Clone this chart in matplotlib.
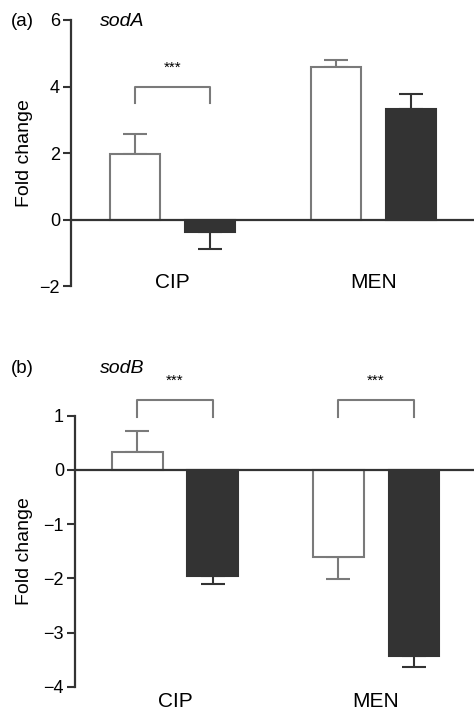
import matplotlib
matplotlib.use('Agg')
import matplotlib.pyplot as plt

plt.rcParams['font.family'] = ['Liberation Sans', 'DejaVu Sans']

groups = ['CIP', 'MEN']
# panel (a) sodA
sodA_white = [1.97, 4.6]
sodA_white_err = [0.6, 0.2]
sodA_black = [-0.37, 3.33]
sodA_black_err = [0.53, 0.43]
# panel (b) sodB
sodB_white = [0.33, -1.61]
sodB_white_err = [0.39, 0.41]
sodB_black = [-1.95, -3.44]
sodB_black_err = [0.15, 0.2]

W = 474 / 100
H = 711 / 100
fig = plt.figure(figsize=(W, H), dpi=100)

DARK = '#333333'
GREY = '#7a7a7a'
off = 0.187
bw = 0.25


def panel(ax, white, werr, black, berr, ylim, yticks, xlim):
    x = list(range(len(groups)))
    xw = [i - off for i in x]
    xb = [i + off for i in x]
    ax.bar(xw, white, bw, color='white', edgecolor=GREY, linewidth=1.5, zorder=2)
    ax.bar(xb, black, bw, color=DARK, edgecolor=DARK, linewidth=1.5, zorder=2)
    for xs, vals, errs, c in [(xw, white, werr, GREY), (xb, black, berr, DARK)]:
        for xi, v, e in zip(xs, vals, errs):
            lo, hi = (0, e) if v >= 0 else (e, 0)
            ax.errorbar(xi, v, yerr=[[lo], [hi]], fmt='none', ecolor=c,
                        elinewidth=1.5, capsize=8.5, capthick=1.5, zorder=1)
    ax.axhline(0, color=DARK, linewidth=1.6, zorder=3, clip_on=False)
    ax.set_xlim(xlim)
    ax.set_ylim(ylim)
    ax.set_yticks(yticks)
    ax.set_yticklabels([str(t).replace('-', '\u2212') for t in yticks])
    ax.set_xticks([])
    for s in ['top', 'right', 'bottom']:
        ax.spines[s].set_visible(False)
    ax.spines['left'].set_color(DARK)
    ax.spines['left'].set_linewidth(1.6)
    ax.tick_params(axis='y', direction='out', length=6, width=1.5,
                   color=DARK, labelsize=13, pad=2)
    ax.set_ylabel('Fold change', fontsize=14)
    return xw, xb


def bracket(ax, x0, x1, ytop, ybot, ystar):
    ax.plot([x0, x0, x1, x1], [ybot, ytop, ytop, ybot], color=GREY,
            linewidth=1.5, clip_on=False)
    ax.text((x0 + x1) / 2, ystar, '***', ha='center', va='center',
            fontsize=11, clip_on=False)


# (a)
axa = fig.add_axes([71 / 474, (711 - 286) / 711, (474 - 71) / 474, 266 / 711])
xw, xb = panel(axa, sodA_white, sodA_white_err, sodA_black, sodA_black_err,
               (-2, 6), [-2, 0, 2, 4, 6], (-0.505, 1.5))
bracket(axa, xw[0], xb[0], 4.0, 3.5, 4.55)
for i, g in enumerate(groups):
    axa.text(i, -1.88, g, ha='center', va='center', fontsize=15)
fig.text(11 / 474, 1 - 21 / 711, '(a)', ha='left', va='center', fontsize=13.5)
fig.text(100 / 474, 1 - 21 / 711, 'sodA', ha='left', va='center',
         fontsize=14, style='italic')
axa.yaxis.set_label_coords(-0.094, 0.5)

# (b)
axb = fig.add_axes([75 / 474, (711 - 686.7) / 711, (474 - 75) / 474, 271 / 711])
xw, xb = panel(axb, sodB_white, sodB_white_err, sodB_black, sodB_black_err,
               (-4, 1), [-4, -3, -2, -1, 0, 1], (-0.4975, 1.487))
for i in range(len(groups)):
    bracket(axb, xw[i], xb[i], 1.29, 0.97, 1.64)
for i, g in enumerate(groups):
    axb.text(i, -4.28, g, ha='center', va='center', fontsize=15, clip_on=False)
fig.text(11 / 474, 1 - 368 / 711, '(b)', ha='left', va='center', fontsize=13.5)
fig.text(100 / 474, 1 - 368 / 711, 'sodB', ha='left', va='center',
         fontsize=14, style='italic')
axb.yaxis.set_label_coords(-0.105, 0.5)

fig.savefig('out.png', dpi=100)
